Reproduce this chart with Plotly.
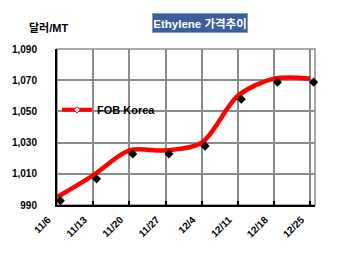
import plotly.graph_objects as go

# ---- data ----
dates = ["11/6", "11/13", "11/20", "11/27", "12/4", "12/11", "12/18", "12/25"]
fob_korea = [995, 1009, 1025, 1025, 1030, 1060, 1071, 1071]
y_ticks = [990, 1010, 1030, 1050, 1070, 1090]
y_tick_text = ["990", "1,010", "1,030", "1,050", "1,070", "1,090"]

FONT = "Arial, 'Liberation Sans', 'Noto Sans CJK KR', sans-serif"
W, H = 350, 254
L, R, T, B = 46, 35, 49, 49

x_idx = list(range(len(dates)))
x_range = [0, 7.13]
y_range = [990, 1090]

# pixel offset of the drop-shadow markers
plot_w = W - L - R
plot_h = H - T - B
dx = 3.5 * (x_range[1] - x_range[0]) / plot_w
dy = 3.5 * (y_range[1] - y_range[0]) / plot_h

fig = go.Figure()

# shadow markers (black diamonds)
fig.add_trace(go.Scatter(
    x=x_idx, y=fob_korea, mode="markers", xaxis="x2", yaxis="y2",
    marker=dict(symbol="diamond", size=7, color="black"),
    showlegend=False, hoverinfo="skip", cliponaxis=False,
))

# smooth red line
fig.add_trace(go.Scatter(
    x=x_idx, y=fob_korea, mode="lines",
    line=dict(color="#ff0000", width=4.5, shape="spline", smoothing=0.9),
    showlegend=False, cliponaxis=False,
))

# legend entry
fig.add_trace(go.Scatter(
    x=[None], y=[None], mode="lines+markers", name="FOB Korea",
    line=dict(color="#ff0000", width=4),
    marker=dict(symbol="diamond", size=5, color="white",
                line=dict(color="#ff0000", width=1)),
))

fig.update_layout(
    width=W, height=H,
    margin=dict(l=L, r=R, t=T, b=B),
    paper_bgcolor="white", plot_bgcolor="white",
    font=dict(family=FONT, size=10, color="black"),
    xaxis=dict(
        range=x_range, tickmode="array", tickvals=x_idx, ticktext=dates,
        tickangle=-45, tickfont=dict(size=10, family=FONT, weight="bold"),
        showgrid=True, gridcolor="#8c8c8c", gridwidth=1.5,
        showline=True, linecolor="black", linewidth=2,
        ticks="inside", ticklen=4, tickwidth=1.5, tickcolor="black",
        ticklabelstandoff=3, ticklabelshift=-9,
        zeroline=False, fixedrange=True,
    ),
    yaxis=dict(
        range=y_range, tickmode="array", tickvals=y_ticks, ticktext=y_tick_text,
        tickfont=dict(size=10, family=FONT, weight="bold"),
        showgrid=True, gridcolor="#8c8c8c", gridwidth=1.5,
        showline=True, linecolor="black", linewidth=2,
        ticks="", ticklabelstandoff=16, zeroline=False, fixedrange=True,
    ),
    xaxis2=dict(range=[x_range[0] - dx, x_range[1] - dx], overlaying="x",
                visible=False, fixedrange=True),
    yaxis2=dict(range=[y_range[0] + dy, y_range[1] + dy], overlaying="y",
                visible=False, fixedrange=True),
    legend=dict(x=0.0, y=0.61, xanchor="left", yanchor="middle",
                bgcolor="rgba(0,0,0,0)",
                font=dict(size=11, family=FONT, weight="bold")),
    shapes=[dict(type="rect", xref="paper", yref="paper", x0=0, x1=1, y0=0, y1=1,
                 line=dict(color="#8c8c8c", width=1.5), layer="below")],
    annotations=[
        dict(text="<b>Ethylene 가격추이</b>", xref="paper", yref="paper",
             x=(195 - L) / plot_w, y=1 + (T - 23) / plot_h,
             xanchor="center", yanchor="middle", showarrow=False,
             font=dict(size=11.5, color="white", family=FONT),
             bgcolor="#3c5f9c", bordercolor="#7f9cc8", borderwidth=1,
             width=92, height=16, borderpad=1),
        dict(text="<b>달러/MT</b>", xref="paper", yref="paper",
             x=(15 - L) / plot_w, y=1 + (T - 28) / plot_h,
             xanchor="left", yanchor="middle", showarrow=False,
             font=dict(size=11, color="black", family=FONT)),
    ],
)

fig.write_html("out.html")
